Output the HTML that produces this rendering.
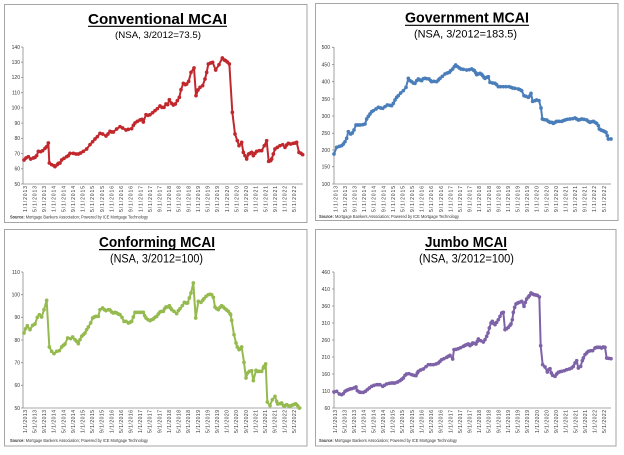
<!DOCTYPE html>
<html><head><meta charset="utf-8"><style>
html,body{margin:0;padding:0;background:#fff;}
svg{display:block;}
text{font-family:"Liberation Sans",Arial,sans-serif;}
.t{font-weight:bold;fill:#000;}
.yl{font-size:5px;fill:#333;text-anchor:end;}
.xl text{font-size:5px;fill:#333;text-anchor:end;}
.src{font-size:4.2px;fill:#333;}
.ax{stroke:#8a8a8a;stroke-width:0.8;fill:none;}
.ln{fill:none;stroke-width:2;stroke-linejoin:round;}
</style></head><body>
<svg width="624" height="455" viewBox="0 0 624 455" xmlns="http://www.w3.org/2000/svg">
<defs>
<marker id="m1" markerUnits="userSpaceOnUse" markerWidth="14" markerHeight="14" refX="7" refY="7"><circle cx="7" cy="7" r="5.5" fill="#C0282D"/></marker>
<marker id="m2" markerUnits="userSpaceOnUse" markerWidth="14" markerHeight="14" refX="7" refY="7"><circle cx="7" cy="7" r="5.5" fill="#4A7EBB"/></marker>
<marker id="m3" markerUnits="userSpaceOnUse" markerWidth="14" markerHeight="14" refX="7" refY="7"><circle cx="7" cy="7" r="5.5" fill="#95BA4F"/></marker>
<marker id="m4" markerUnits="userSpaceOnUse" markerWidth="14" markerHeight="14" refX="7" refY="7"><circle cx="7" cy="7" r="5.5" fill="#7E62A8"/></marker>
</defs>
<rect width="624" height="455" fill="#fff"/>

<!-- Panel borders -->
<rect x="4.5" y="4.5" width="302.5" height="218" fill="#fff" stroke="#a6a6a6" stroke-width="1"/>
<rect x="315.5" y="3.5" width="302.5" height="217" fill="#fff" stroke="#a6a6a6" stroke-width="1"/>
<rect x="4.5" y="229.5" width="302.5" height="216.5" fill="#fff" stroke="#a6a6a6" stroke-width="1"/>
<rect x="315.5" y="229.5" width="300.5" height="216.5" fill="#fff" stroke="#a6a6a6" stroke-width="1"/>

<!-- ============ PANEL 1 ============ -->
<text class="t" x="88" y="24" font-size="15" textLength="139" lengthAdjust="spacingAndGlyphs">Conventional MCAI</text>
<line x1="88" y1="26.3" x2="227" y2="26.3" stroke="#000" stroke-width="1.2"/>
<text x="115" y="38" font-size="9.5" fill="#000" textLength="86" lengthAdjust="spacingAndGlyphs">(NSA, 3/2012=73.5)</text>
<g class="yl">
<text x="20" y="48.8">140</text><text x="20" y="64">130</text><text x="20" y="79.2">120</text><text x="20" y="94.5">110</text><text x="20" y="109.7">100</text><text x="20" y="124.9">90</text><text x="20" y="140.1">80</text><text x="20" y="155.3">70</text><text x="20" y="170.6">60</text><text x="20" y="185.8">50</text>
</g>
<path class="ax" d="M23,47V184H303M21,47H23M21,62.2H23M21,77.4H23M21,92.7H23M21,107.9H23M21,123.1H23M21,138.3H23M21,153.5H23M21,168.8H23M21,184H23"/>
<g class="xl" transform="translate(25,186)">
<text transform="translate(0,0) rotate(-90)" dy="1.8" textLength="26">1/1/2013</text>
<text transform="translate(9.62,0) rotate(-90)" dy="1.8" textLength="26">5/1/2013</text>
<text transform="translate(19.24,0) rotate(-90)" dy="1.8" textLength="26">9/1/2013</text>
<text transform="translate(28.86,0) rotate(-90)" dy="1.8" textLength="26">1/1/2014</text>
<text transform="translate(38.48,0) rotate(-90)" dy="1.8" textLength="26">5/1/2014</text>
<text transform="translate(48.1,0) rotate(-90)" dy="1.8" textLength="26">9/1/2014</text>
<text transform="translate(57.72,0) rotate(-90)" dy="1.8" textLength="26">1/1/2015</text>
<text transform="translate(67.34,0) rotate(-90)" dy="1.8" textLength="26">5/1/2015</text>
<text transform="translate(76.96,0) rotate(-90)" dy="1.8" textLength="26">9/1/2015</text>
<text transform="translate(86.58,0) rotate(-90)" dy="1.8" textLength="26">1/1/2016</text>
<text transform="translate(96.2,0) rotate(-90)" dy="1.8" textLength="26">5/1/2016</text>
<text transform="translate(105.82,0) rotate(-90)" dy="1.8" textLength="26">9/1/2016</text>
<text transform="translate(115.44,0) rotate(-90)" dy="1.8" textLength="26">1/1/2017</text>
<text transform="translate(125.06,0) rotate(-90)" dy="1.8" textLength="26">5/1/2017</text>
<text transform="translate(134.68,0) rotate(-90)" dy="1.8" textLength="26">9/1/2017</text>
<text transform="translate(144.3,0) rotate(-90)" dy="1.8" textLength="26">1/1/2018</text>
<text transform="translate(153.92,0) rotate(-90)" dy="1.8" textLength="26">5/1/2018</text>
<text transform="translate(163.54,0) rotate(-90)" dy="1.8" textLength="26">9/1/2018</text>
<text transform="translate(173.16,0) rotate(-90)" dy="1.8" textLength="26">1/1/2019</text>
<text transform="translate(182.78,0) rotate(-90)" dy="1.8" textLength="26">5/1/2019</text>
<text transform="translate(192.4,0) rotate(-90)" dy="1.8" textLength="26">9/1/2019</text>
<text transform="translate(202.02,0) rotate(-90)" dy="1.8" textLength="26">1/1/2020</text>
<text transform="translate(211.64,0) rotate(-90)" dy="1.8" textLength="26">5/1/2020</text>
<text transform="translate(221.26,0) rotate(-90)" dy="1.8" textLength="26">9/1/2020</text>
<text transform="translate(230.88,0) rotate(-90)" dy="1.8" textLength="26">1/1/2021</text>
<text transform="translate(240.5,0) rotate(-90)" dy="1.8" textLength="26">5/1/2021</text>
<text transform="translate(250.12,0) rotate(-90)" dy="1.8" textLength="26">9/1/2021</text>
<text transform="translate(259.74,0) rotate(-90)" dy="1.8" textLength="26">1/1/2022</text>
<text transform="translate(269.36,0) rotate(-90)" dy="1.8" textLength="26">5/1/2022</text>
</g>
<text class="src" x="10" y="218.5" textLength="138" lengthAdjust="spacingAndGlyphs"><tspan font-weight="bold">Source:</tspan> Mortgage Bankers Association; Powered by ICE Mortgage Technology</text>
<g transform="translate(20,44) scale(0.333333)">
<polyline class="ln" stroke="#C0282D" vector-effect="non-scaling-stroke" marker-start="url(#m1)" marker-mid="url(#m1)" marker-end="url(#m1)" points="12,348 18,342 25,338 32,345 40,342 45,340 50,335 55,322 62,323 68,320 75,313 80,308 85,297 88,357 95,362 102,365 105,368 112,362 115,358 120,357 125,348 132,343 140,338 145,335 150,328 160,328 168,330 175,330 182,327 190,322 200,315 210,302 218,293 225,285 232,278 240,268 248,270 258,276 264,270 270,262 275,264 280,264 290,255 300,248 308,252 318,258 325,256 335,254 340,244 345,237 352,232 360,228 366,226 370,234 378,212 384,214 390,212 398,206 405,200 412,194 420,186 426,190 432,190 438,180 443,182 448,167 455,178 460,183 466,180 472,170 478,160 483,137 490,118 496,122 500,120 506,112 513,85 522,72 528,155 534,138 540,130 548,125 555,105 560,85 565,60 572,57 578,55 587,78 597,62 607,42 613,48 617,50 622,54 628,60 637,205 645,270 652,290 657,305 665,295 670,325 675,335 680,345 686,330 690,328 695,325 700,335 705,328 710,322 718,320 725,320 733,305 740,290 746,352 752,350 755,345 760,330 765,315 772,310 780,305 788,302 795,310 800,303 805,298 812,300 820,298 826,297 830,295 837,325 843,328 848,332"/>
</g>

<!-- ============ PANEL 2 ============ -->
<text class="t" x="405" y="22.7" font-size="15" textLength="124" lengthAdjust="spacingAndGlyphs">Government MCAI</text>
<line x1="405" y1="25.3" x2="529" y2="25.3" stroke="#000" stroke-width="1.2"/>
<text x="414" y="37.7" font-size="11" fill="#000" textLength="103" lengthAdjust="spacingAndGlyphs">(NSA, 3/2012=183.5)</text>
<g class="yl">
<text x="330" y="49.1">500</text><text x="330" y="66.5">450</text><text x="330" y="83.5">400</text><text x="330" y="100.8">350</text><text x="330" y="117.8">300</text><text x="330" y="135.1">250</text><text x="330" y="151.8">200</text><text x="330" y="168.5">150</text><text x="330" y="185.8">100</text>
</g>
<path class="ax" d="M334,47.3V184H611M332,47.3H334M332,64.7H334M332,81.7H334M332,99H334M332,116H334M332,133.3H334M332,150H334M332,166.7H334M332,184H334"/>
<g class="xl" transform="translate(335.5,186)">
<text transform="translate(0,0) rotate(-90)" dy="1.8" textLength="26">1/1/2013</text>
<text transform="translate(9.59,0) rotate(-90)" dy="1.8" textLength="26">5/1/2013</text>
<text transform="translate(19.18,0) rotate(-90)" dy="1.8" textLength="26">9/1/2013</text>
<text transform="translate(28.77,0) rotate(-90)" dy="1.8" textLength="26">1/1/2014</text>
<text transform="translate(38.36,0) rotate(-90)" dy="1.8" textLength="26">5/1/2014</text>
<text transform="translate(47.95,0) rotate(-90)" dy="1.8" textLength="26">9/1/2014</text>
<text transform="translate(57.54,0) rotate(-90)" dy="1.8" textLength="26">1/1/2015</text>
<text transform="translate(67.13,0) rotate(-90)" dy="1.8" textLength="26">5/1/2015</text>
<text transform="translate(76.72,0) rotate(-90)" dy="1.8" textLength="26">9/1/2015</text>
<text transform="translate(86.31,0) rotate(-90)" dy="1.8" textLength="26">1/1/2016</text>
<text transform="translate(95.9,0) rotate(-90)" dy="1.8" textLength="26">5/1/2016</text>
<text transform="translate(105.49,0) rotate(-90)" dy="1.8" textLength="26">9/1/2016</text>
<text transform="translate(115.08,0) rotate(-90)" dy="1.8" textLength="26">1/1/2017</text>
<text transform="translate(124.67,0) rotate(-90)" dy="1.8" textLength="26">5/1/2017</text>
<text transform="translate(134.26,0) rotate(-90)" dy="1.8" textLength="26">9/1/2017</text>
<text transform="translate(143.85,0) rotate(-90)" dy="1.8" textLength="26">1/1/2018</text>
<text transform="translate(153.44,0) rotate(-90)" dy="1.8" textLength="26">5/1/2018</text>
<text transform="translate(163.03,0) rotate(-90)" dy="1.8" textLength="26">9/1/2018</text>
<text transform="translate(172.62,0) rotate(-90)" dy="1.8" textLength="26">1/1/2019</text>
<text transform="translate(182.21,0) rotate(-90)" dy="1.8" textLength="26">5/1/2019</text>
<text transform="translate(191.8,0) rotate(-90)" dy="1.8" textLength="26">9/1/2019</text>
<text transform="translate(201.39,0) rotate(-90)" dy="1.8" textLength="26">1/1/2020</text>
<text transform="translate(210.98,0) rotate(-90)" dy="1.8" textLength="26">5/1/2020</text>
<text transform="translate(220.57,0) rotate(-90)" dy="1.8" textLength="26">9/1/2020</text>
<text transform="translate(230.16,0) rotate(-90)" dy="1.8" textLength="26">1/1/2021</text>
<text transform="translate(239.75,0) rotate(-90)" dy="1.8" textLength="26">5/1/2021</text>
<text transform="translate(249.34,0) rotate(-90)" dy="1.8" textLength="26">9/1/2021</text>
<text transform="translate(258.93,0) rotate(-90)" dy="1.8" textLength="26">1/1/2022</text>
<text transform="translate(268.52,0) rotate(-90)" dy="1.8" textLength="26">5/1/2022</text>
</g>
<text class="src" x="319" y="218" textLength="140" lengthAdjust="spacingAndGlyphs"><tspan font-weight="bold">Source:</tspan> Mortgage Bankers Association; Powered by ICE Mortgage Technology</text>
<g transform="translate(330,44) scale(0.333333)">
<polyline class="ln" stroke="#4A7EBB" vector-effect="non-scaling-stroke" marker-start="url(#m2)" marker-mid="url(#m2)" marker-end="url(#m2)" points="12,330 20,310 28,307 35,305 40,300 45,293 50,283 55,263 62,270 67,267 72,258 78,243 84,243 90,243 98,242 105,240 110,225 115,217 120,210 125,203 130,200 138,195 145,190 152,192 158,193 165,188 172,183 180,184 185,185 190,178 195,168 200,160 205,155 212,147 220,140 228,130 235,103 240,110 245,113 250,117 255,118 260,110 265,105 270,108 275,110 280,104 285,103 290,104 297,105 302,110 305,113 312,112 320,113 325,108 330,103 337,97 345,90 352,87 358,85 362,80 368,75 373,68 377,63 383,68 388,72 393,75 400,76 410,78 418,77 425,75 430,78 433,80 437,86 440,92 445,90 450,88 455,91 458,95 462,100 465,103 470,100 475,98 480,115 488,117 495,118 500,122 505,128 512,128 520,128 528,128 537,128 543,130 548,132 555,133 565,135 570,137 575,140 582,155 588,157 595,160 600,155 603,148 608,172 615,170 620,168 627,170 633,192 637,225 643,227 650,228 655,232 660,235 665,235 670,238 675,235 680,232 687,232 695,232 700,230 705,228 712,226 720,225 728,224 735,222 740,225 745,228 750,227 755,225 762,226 770,228 775,232 780,235 785,233 790,232 795,235 800,238 805,245 808,255 813,258 818,260 823,262 828,265 832,275 835,285 843,285"/>
</g>

<!-- ============ PANEL 3 ============ -->
<text class="t" x="99" y="247" font-size="15" textLength="116" lengthAdjust="spacingAndGlyphs">Conforming MCAI</text>
<line x1="99" y1="249.6" x2="215" y2="249.6" stroke="#000" stroke-width="1.2"/>
<text x="110" y="262.5" font-size="11.5" fill="#000" textLength="93" lengthAdjust="spacingAndGlyphs">(NSA, 3/2012=100)</text>
<g class="yl">
<text x="20" y="273.8">110</text><text x="20" y="296.5">100</text><text x="20" y="319.1">90</text><text x="20" y="341.8">80</text><text x="20" y="364.5">70</text><text x="20" y="387.1">60</text><text x="20" y="409.8">50</text>
</g>
<path class="ax" d="M23,272V408H302M21,272H23M21,294.7H23M21,317.3H23M21,340H23M21,362.7H23M21,385.3H23M21,408H23"/>
<g class="xl" transform="translate(25,410)">
<text transform="translate(0,0) rotate(-90)" dy="1.8" textLength="23">1/1/2013</text>
<text transform="translate(9.61,0) rotate(-90)" dy="1.8" textLength="23">5/1/2013</text>
<text transform="translate(19.22,0) rotate(-90)" dy="1.8" textLength="23">9/1/2013</text>
<text transform="translate(28.83,0) rotate(-90)" dy="1.8" textLength="23">1/1/2014</text>
<text transform="translate(38.44,0) rotate(-90)" dy="1.8" textLength="23">5/1/2014</text>
<text transform="translate(48.05,0) rotate(-90)" dy="1.8" textLength="23">9/1/2014</text>
<text transform="translate(57.66,0) rotate(-90)" dy="1.8" textLength="23">1/1/2015</text>
<text transform="translate(67.27,0) rotate(-90)" dy="1.8" textLength="23">5/1/2015</text>
<text transform="translate(76.88,0) rotate(-90)" dy="1.8" textLength="23">9/1/2015</text>
<text transform="translate(86.49,0) rotate(-90)" dy="1.8" textLength="23">1/1/2016</text>
<text transform="translate(96.1,0) rotate(-90)" dy="1.8" textLength="23">5/1/2016</text>
<text transform="translate(105.71,0) rotate(-90)" dy="1.8" textLength="23">9/1/2016</text>
<text transform="translate(115.32,0) rotate(-90)" dy="1.8" textLength="23">1/1/2017</text>
<text transform="translate(124.93,0) rotate(-90)" dy="1.8" textLength="23">5/1/2017</text>
<text transform="translate(134.54,0) rotate(-90)" dy="1.8" textLength="23">9/1/2017</text>
<text transform="translate(144.15,0) rotate(-90)" dy="1.8" textLength="23">1/1/2018</text>
<text transform="translate(153.76,0) rotate(-90)" dy="1.8" textLength="23">5/1/2018</text>
<text transform="translate(163.37,0) rotate(-90)" dy="1.8" textLength="23">9/1/2018</text>
<text transform="translate(172.98,0) rotate(-90)" dy="1.8" textLength="23">1/1/2019</text>
<text transform="translate(182.59,0) rotate(-90)" dy="1.8" textLength="23">5/1/2019</text>
<text transform="translate(192.2,0) rotate(-90)" dy="1.8" textLength="23">9/1/2019</text>
<text transform="translate(201.81,0) rotate(-90)" dy="1.8" textLength="23">1/1/2020</text>
<text transform="translate(211.42,0) rotate(-90)" dy="1.8" textLength="23">5/1/2020</text>
<text transform="translate(221.03,0) rotate(-90)" dy="1.8" textLength="23">9/1/2020</text>
<text transform="translate(230.64,0) rotate(-90)" dy="1.8" textLength="23">1/1/2021</text>
<text transform="translate(240.25,0) rotate(-90)" dy="1.8" textLength="23">5/1/2021</text>
<text transform="translate(249.86,0) rotate(-90)" dy="1.8" textLength="23">9/1/2021</text>
<text transform="translate(259.47,0) rotate(-90)" dy="1.8" textLength="23">1/1/2022</text>
<text transform="translate(269.08,0) rotate(-90)" dy="1.8" textLength="23">5/1/2022</text>
</g>
<text class="src" x="10" y="442" textLength="138" lengthAdjust="spacingAndGlyphs"><tspan font-weight="bold">Source:</tspan> Mortgage Bankers Association; Powered by ICE Mortgage Technology</text>
<g transform="translate(20,268) scale(0.333333)">
<polyline class="ln" stroke="#95BA4F" vector-effect="non-scaling-stroke" marker-start="url(#m3)" marker-mid="url(#m3)" marker-end="url(#m3)" points="12,195 17,182 22,173 30,185 38,172 45,168 52,148 58,140 65,147 72,125 80,97 88,237 95,250 102,257 110,250 118,248 125,237 130,232 135,228 143,210 152,212 158,207 165,215 170,220 175,227 180,215 185,205 190,200 195,195 200,185 205,177 212,165 218,150 223,147 228,145 235,145 240,125 248,120 253,125 258,128 265,125 270,126 275,132 280,135 285,133 290,135 295,138 300,140 306,148 312,160 318,160 325,165 330,163 335,160 340,147 345,133 352,133 358,133 365,133 370,133 374,143 378,150 384,155 390,158 395,155 400,153 405,148 410,145 415,138 420,132 425,130 430,130 434,122 438,117 443,117 448,113 452,120 455,125 462,130 470,137 475,128 480,122 487,113 493,103 498,105 503,105 508,90 513,75 520,45 527,150 535,100 543,103 548,97 552,92 558,85 565,80 570,79 575,80 580,88 585,117 590,122 595,125 600,118 605,113 610,117 615,122 620,126 625,130 630,137 632,140 635,157 642,200 648,225 652,237 657,245 660,243 665,237 672,283 678,330 683,315 688,310 695,308 700,338 708,307 713,310 718,310 725,310 730,300 732,295 737,288 742,402 750,413 757,395 765,385 770,400 773,408 780,407 785,405 790,412 793,415 800,410 805,413 810,415 815,412 820,410 825,408 828,408 833,413 838,420"/>
</g>

<!-- ============ PANEL 4 ============ -->
<text class="t" x="425" y="247" font-size="15" textLength="82" lengthAdjust="spacingAndGlyphs">Jumbo MCAI</text>
<line x1="425" y1="249.6" x2="507" y2="249.6" stroke="#000" stroke-width="1.2"/>
<text x="419" y="262.5" font-size="11.5" fill="#000" textLength="95" lengthAdjust="spacingAndGlyphs">(NSA, 3/2012=100)</text>
<g class="yl">
<text x="330" y="273.8">460</text><text x="330" y="290.8">410</text><text x="330" y="307.8">360</text><text x="330" y="324.8">310</text><text x="330" y="341.8">260</text><text x="330" y="358.8">210</text><text x="330" y="375.8">160</text><text x="330" y="392.8">110</text><text x="330" y="409.8">60</text>
</g>
<path class="ax" d="M334,272V408H611M332,272H334M332,289H334M332,306H334M332,323H334M332,340H334M332,357H334M332,374H334M332,391H334M332,408H334"/>
<g class="xl" transform="translate(335,410)">
<text transform="translate(0,0) rotate(-90)" dy="1.8" textLength="23">1/1/2013</text>
<text transform="translate(9.62,0) rotate(-90)" dy="1.8" textLength="23">5/1/2013</text>
<text transform="translate(19.24,0) rotate(-90)" dy="1.8" textLength="23">9/1/2013</text>
<text transform="translate(28.86,0) rotate(-90)" dy="1.8" textLength="23">1/1/2014</text>
<text transform="translate(38.48,0) rotate(-90)" dy="1.8" textLength="23">5/1/2014</text>
<text transform="translate(48.1,0) rotate(-90)" dy="1.8" textLength="23">9/1/2014</text>
<text transform="translate(57.72,0) rotate(-90)" dy="1.8" textLength="23">1/1/2015</text>
<text transform="translate(67.34,0) rotate(-90)" dy="1.8" textLength="23">5/1/2015</text>
<text transform="translate(76.96,0) rotate(-90)" dy="1.8" textLength="23">9/1/2015</text>
<text transform="translate(86.58,0) rotate(-90)" dy="1.8" textLength="23">1/1/2016</text>
<text transform="translate(96.2,0) rotate(-90)" dy="1.8" textLength="23">5/1/2016</text>
<text transform="translate(105.82,0) rotate(-90)" dy="1.8" textLength="23">9/1/2016</text>
<text transform="translate(115.44,0) rotate(-90)" dy="1.8" textLength="23">1/1/2017</text>
<text transform="translate(125.06,0) rotate(-90)" dy="1.8" textLength="23">5/1/2017</text>
<text transform="translate(134.68,0) rotate(-90)" dy="1.8" textLength="23">9/1/2017</text>
<text transform="translate(144.3,0) rotate(-90)" dy="1.8" textLength="23">1/1/2018</text>
<text transform="translate(153.92,0) rotate(-90)" dy="1.8" textLength="23">5/1/2018</text>
<text transform="translate(163.54,0) rotate(-90)" dy="1.8" textLength="23">9/1/2018</text>
<text transform="translate(173.16,0) rotate(-90)" dy="1.8" textLength="23">1/1/2019</text>
<text transform="translate(182.78,0) rotate(-90)" dy="1.8" textLength="23">5/1/2019</text>
<text transform="translate(192.4,0) rotate(-90)" dy="1.8" textLength="23">9/1/2019</text>
<text transform="translate(202.02,0) rotate(-90)" dy="1.8" textLength="23">1/1/2020</text>
<text transform="translate(211.64,0) rotate(-90)" dy="1.8" textLength="23">5/1/2020</text>
<text transform="translate(221.26,0) rotate(-90)" dy="1.8" textLength="23">9/1/2020</text>
<text transform="translate(230.88,0) rotate(-90)" dy="1.8" textLength="23">1/1/2021</text>
<text transform="translate(240.5,0) rotate(-90)" dy="1.8" textLength="23">5/1/2021</text>
<text transform="translate(250.12,0) rotate(-90)" dy="1.8" textLength="23">9/1/2021</text>
<text transform="translate(259.74,0) rotate(-90)" dy="1.8" textLength="23">1/1/2022</text>
<text transform="translate(269.36,0) rotate(-90)" dy="1.8" textLength="23">5/1/2022</text>
</g>
<text class="src" x="319" y="442" textLength="138" lengthAdjust="spacingAndGlyphs"><tspan font-weight="bold">Source:</tspan> Mortgage Bankers Association; Powered by ICE Mortgage Technology</text>
<g transform="translate(330,268) scale(0.333333)">
<polyline class="ln" stroke="#7E62A8" vector-effect="non-scaling-stroke" marker-start="url(#m4)" marker-mid="url(#m4)" marker-end="url(#m4)" points="12,372 20,370 28,378 35,380 40,377 45,370 50,367 55,365 60,363 65,362 72,360 78,357 82,368 88,372 92,373 100,373 106,370 112,365 118,360 125,355 132,352 140,350 145,350 150,350 158,355 163,352 170,348 178,346 185,345 190,345 195,345 203,342 210,338 215,334 220,330 225,322 230,318 237,317 245,320 252,322 258,323 262,315 265,310 272,306 280,303 288,296 295,290 302,290 310,290 318,288 325,285 330,280 335,275 342,272 350,268 355,265 360,262 368,273 372,245 378,244 385,242 392,239 400,235 405,232 410,230 415,228 420,233 425,229 428,225 433,226 438,228 442,220 445,213 452,218 460,222 465,215 470,205 474,195 478,180 483,165 487,160 491,166 495,170 500,163 505,155 510,145 515,135 520,133 525,185 530,182 535,178 540,172 543,168 547,155 550,133 554,118 558,108 563,105 568,103 575,100 582,115 586,103 590,93 595,87 598,83 603,75 608,78 612,80 617,81 622,82 628,87 632,233 638,290 645,297 652,312 656,305 660,302 664,315 668,322 675,325 680,318 685,313 690,311 695,310 703,308 710,305 718,303 725,300 730,295 735,285 740,278 745,300 752,295 757,278 760,270 765,260 770,255 775,250 782,248 788,248 795,240 800,238 805,238 810,238 815,240 820,237 825,238 830,270 836,271 843,272"/>
</g>
</svg>
</body></html>
